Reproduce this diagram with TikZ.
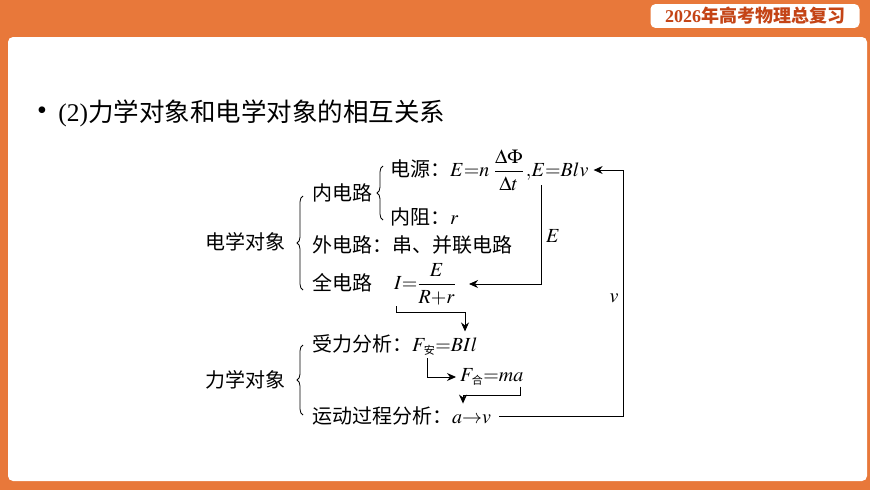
\documentclass[tikz,border=0pt]{standalone}
\usepackage{amsmath,amssymb}
\usepackage{mathptmx}
\usepackage{xcolor}
\usepackage{fontspec}
\setmainfont{Liberation Serif}
\newfontfamily\cjk{Noto Sans CJK SC}
\usepackage{tikz}
\usetikzlibrary{arrows.meta, positioning, decorations.pathreplacing}

\definecolor{slideorange}{RGB}{232,120,58}
\definecolor{badgered}{RGB}{196,68,22}
\newcommand{\subzh}[1]{\mbox{\kern1.5pt\cjk\fontsize{11}{11}\selectfont #1}}

\begin{document}
\begin{tikzpicture}[
    x=1pt, y=-1pt,
    txt/.style={anchor=west, inner sep=1pt, font=\cjk\fontsize{20}{24}\selectfont},
    lbl/.style={inner sep=1pt, font=\fontsize{20}{24}\selectfont},
    arrow/.style={line width=0.9pt, ->, >={Stealth[length=9pt,width=8pt]}},
    brace/.style={line width=0.8pt, decorate, decoration={brace, amplitude=6pt}},
    badge/.style={fill=white, rounded corners=5pt, minimum width=209pt, minimum height=23pt, text=badgered, font=\cjk\bfseries\fontsize{18}{20}\selectfont}
]
\useasboundingbox (0,0) rectangle (870,490);

% Slide frame
\fill[slideorange] (0,0) rectangle (870,490);
\fill[white, rounded corners=5pt] (8,37) rectangle (867,481);
\node[badge] (badge) at (755,16) {{\rmfamily 2026}年高考物理总复习};

% Title
\node[anchor=west, inner sep=0pt, font=\fontsize{28}{30}\selectfont] (bullet) at (37,113) {•};
\node[right=11pt of bullet, inner sep=0pt, font=\cjk\fontsize{25.5}{28}\selectfont] (title) {{\rmfamily (2)}力学对象和电学对象的相互关系};

% Electric side
\node[txt] (elec) at (204,242) {电学对象};
\node[txt] (inner) at (311,193) {内电路};
\node[txt] (source) at (389,170) {电源：$E{=}n\;\dfrac{\Delta\Phi}{\Delta t}\,{,}E{=}Blv$};
\node[txt] (resist) at (389,217) {内阻：$r$};
\node[txt] (outer) at (311,245) {外电路：串、并联电路};
\node[txt] (whole) at (311,283) {全电路};
\node[txt] (current) at (393,284) {$I{=}\dfrac{E}{R{+}r}$};

% Mechanical side
\node[txt] (mech) at (204,380) {力学对象};
\node[txt] (force) at (311,345) {受力分析：$F_{\subzh{安}}{=}BIl$};
\node[txt] (net) at (459,377) {$F_{\subzh{合}}{=}ma$};
\node[txt] (motion) at (311,416) {运动过程分析：$a{\to}v$};

% Braces
\draw[brace] (303,290) -- (303,196);
\draw[brace] (383,220) -- (383,166);
\draw[brace] (303,415) -- (303,345);

% Turning points
\coordinate (etop) at (541,185);
\coordinate (vcorner) at (623,416);
\coordinate (iturn) at (465,312);
\coordinate (fdown) at (427,358);
\coordinate (nturn) at (463,395);

% Arrows
\draw[arrow] (etop) |- ([xshift=12pt]current.east);
\draw[arrow] ([xshift=7pt]motion.east) -- (vcorner) |- ([xshift=4pt]source.east);
\draw[arrow, shorten >=2pt] ([xshift=3pt]current.south west) |- (iturn) -- (iturn |- force.north);
\draw[arrow, shorten >=3pt] (fdown) |- (net.west);
\draw[arrow, shorten >=2pt] ([xshift=-4pt]net.south east) |- (nturn) -- (nturn |- motion.north);

% Labels
\node[lbl] (elabel) at (553,236) {$E$};
\node[lbl] (vlabel) at (614,298) {$v$};

\end{tikzpicture}
\end{document}
